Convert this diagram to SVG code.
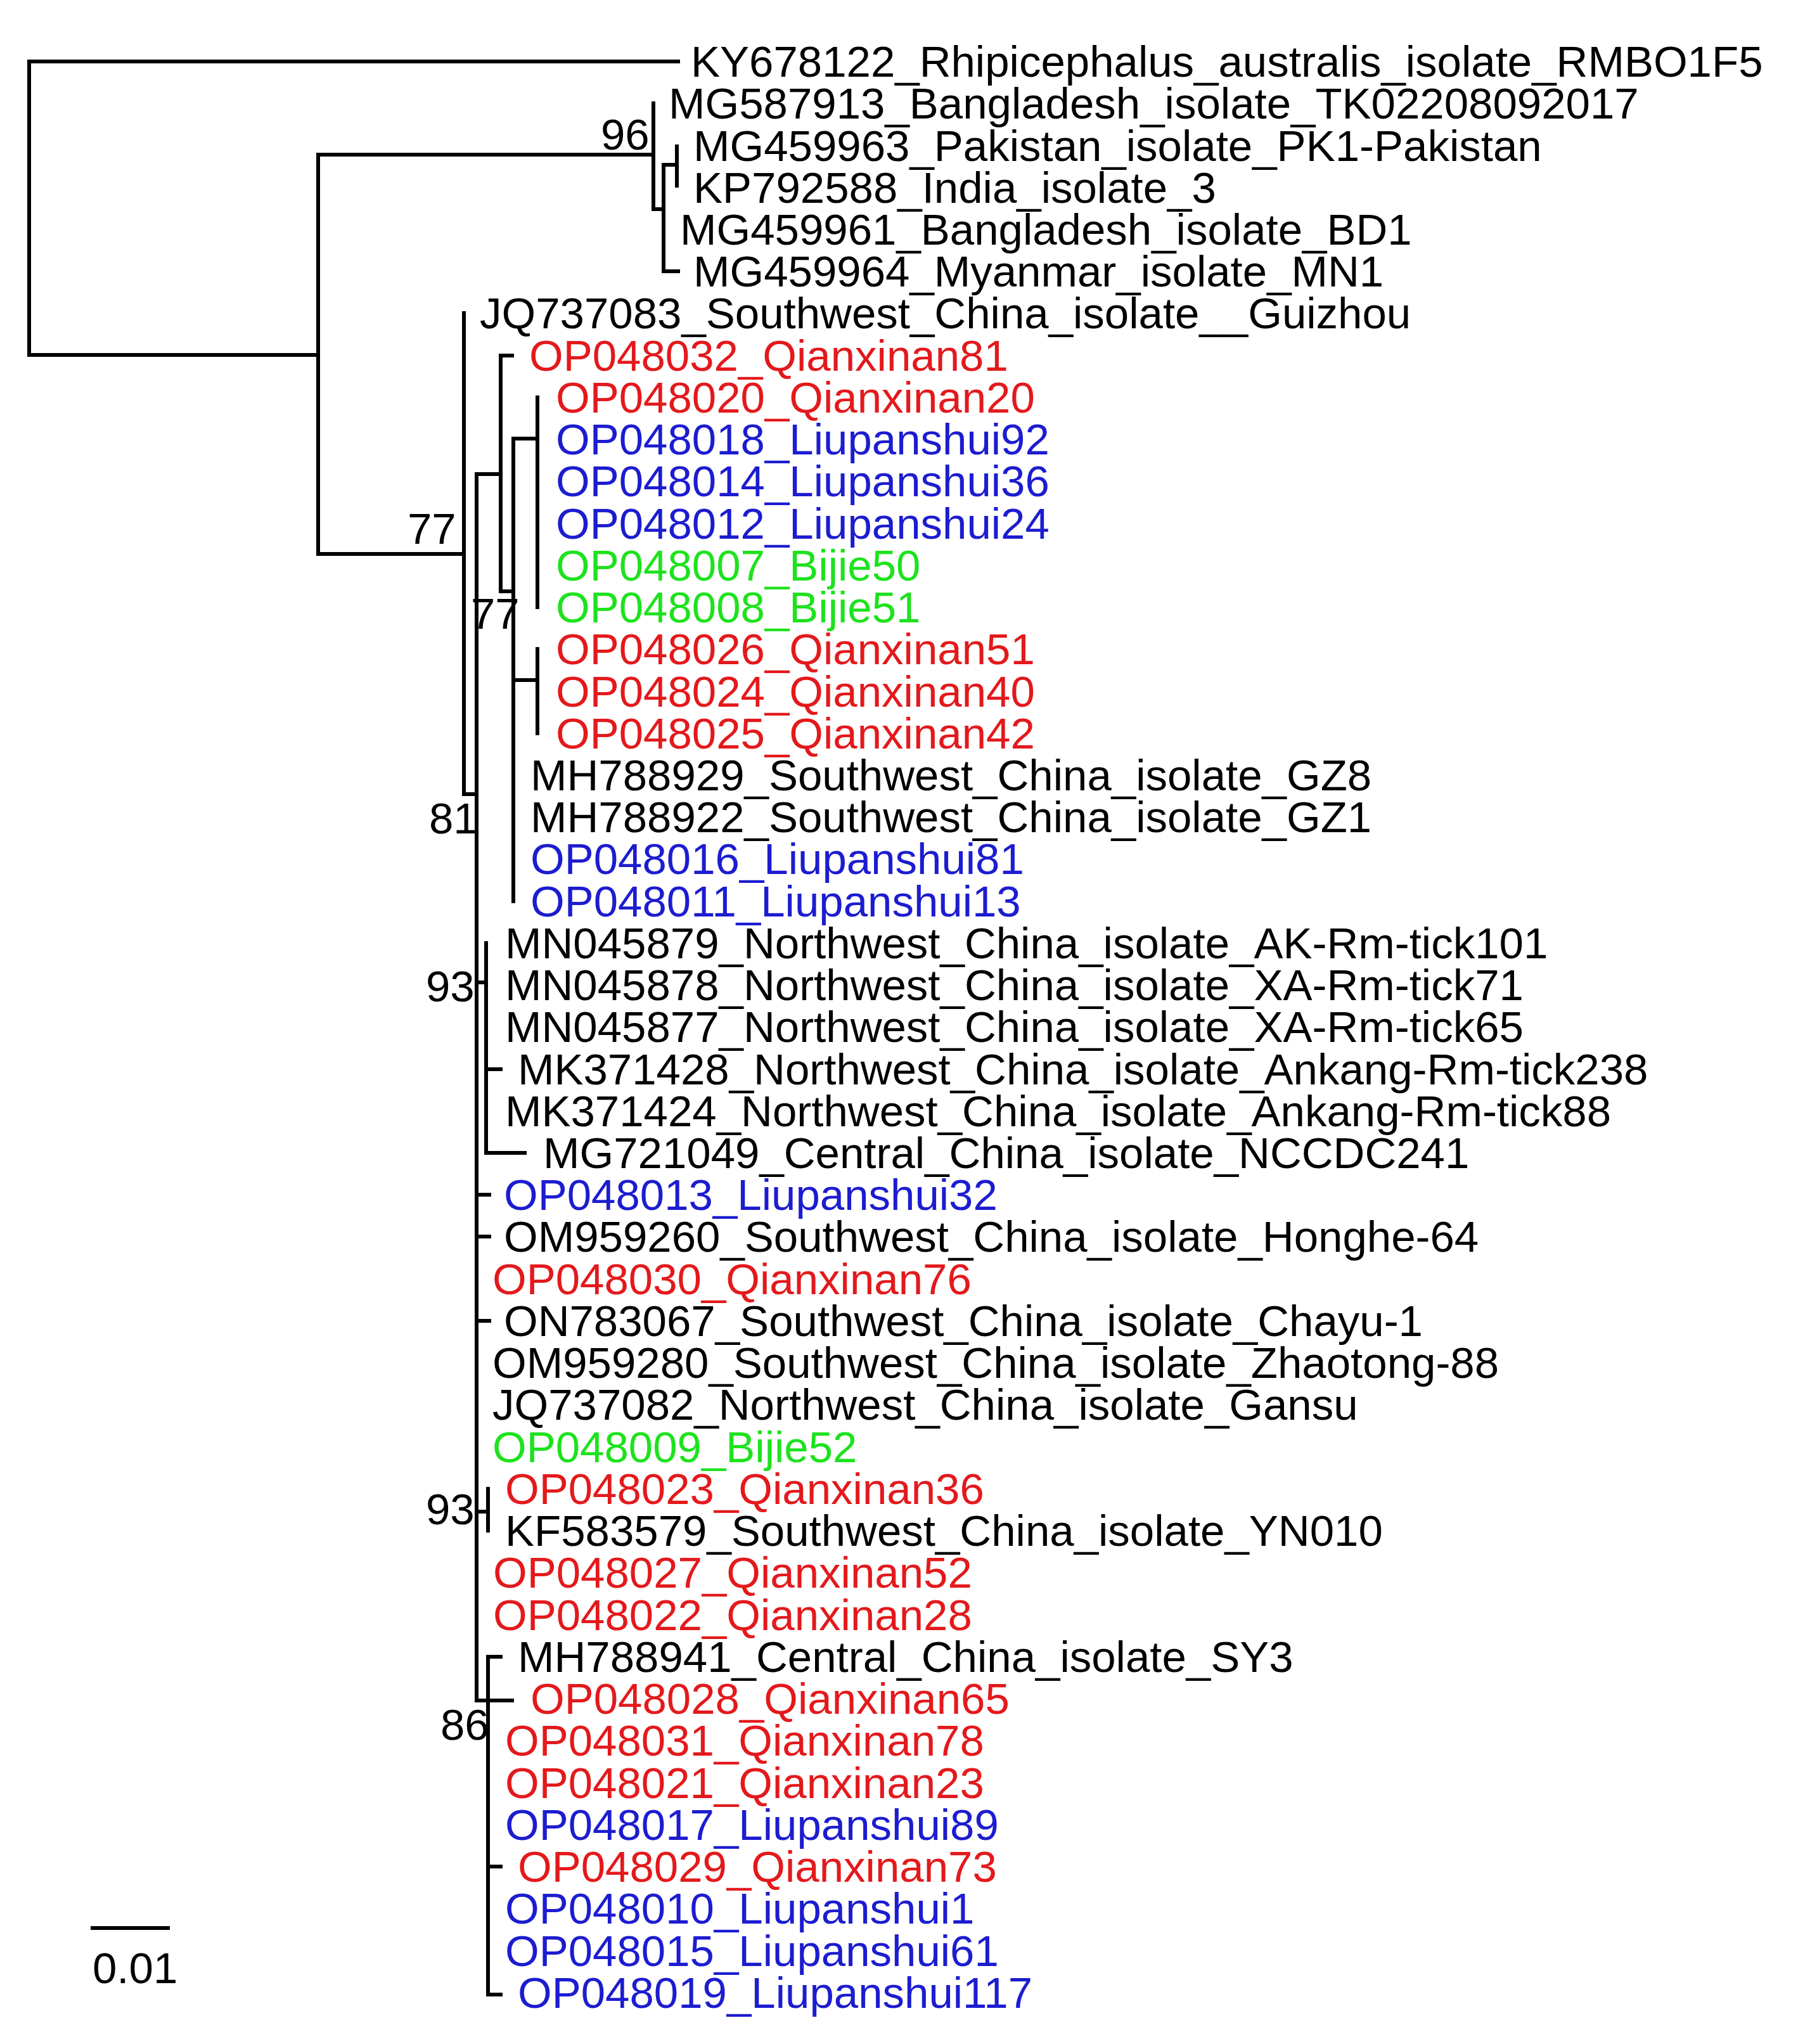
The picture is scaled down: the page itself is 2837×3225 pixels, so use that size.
<svg xmlns="http://www.w3.org/2000/svg" width="2837" height="3225" viewBox="0 0 2837 3225">
<style>
text{font-family:"Liberation Sans",Arial,sans-serif;font-size:69px;fill:#000}
.r{fill:#e3191c}.b{fill:#1c1cd0}.g{fill:#1ee21e}
.e path{fill:none;stroke:#000;stroke-width:6;stroke-linecap:square}
</style>
<rect width="2837" height="3225" fill="#fff"/>
<g id="edges" class="e">
<path d="M1070 97H46V560H502"/>
<path d="M1031 244H502V874H732"/>
<path d="M1031 163V330H1047"/>
<path d="M1068 260H1047V428H1070"/>
<path d="M1068 231V293"/>
<path d="M732 494V1253H752"/>
<path d="M790 748H752V2683H808"/>
<path d="M752 1550H767M752 1885H772M752 1951H772M752 2084H772M752 2385H770"/>
<path d="M808 561H790V933H810"/>
<path d="M848 692H810V1422M810 1073H848"/>
<path d="M848 627V958M848 1024V1157"/>
<path d="M767 1488V1819H828M767 1687H790"/>
<path d="M770 2349V2415"/>
<path d="M790 2614H770V3147H790M770 2945H790"/>
<path d="M146 3042H265"/>
</g>
<g id="support">
<text x="948" y="236">96</text>
<text x="643" y="858">77</text>
<text x="743" y="992">77</text>
<text x="677" y="1315">81</text>
<text x="672" y="1580">93</text>
<text x="672" y="2405">93</text>
<text x="695" y="2745">86</text>
<text x="146" y="3129">0.01</text>
</g>
<g id="leaves">
<text x="1090" y="121">KY678122_Rhipicephalus_australis_isolate_RMBO1F5</text>
<text x="1055" y="187">MG587913_Bangladesh_isolate_TK02208092017</text>
<text x="1094" y="254">MG459963_Pakistan_isolate_PK1-Pakistan</text>
<text x="1094" y="320">KP792588_India_isolate_3</text>
<text x="1073" y="386">MG459961_Bangladesh_isolate_BD1</text>
<text x="1094" y="452">MG459964_Myanmar_isolate_MN1</text>
<text x="757" y="518">JQ737083_Southwest_China_isolate__Guizhou</text>
<text class="r" x="835" y="585">OP048032_Qianxinan81</text>
<text class="r" x="877" y="651">OP048020_Qianxinan20</text>
<text class="b" x="877" y="717">OP048018_Liupanshui92</text>
<text class="b" x="877" y="783">OP048014_Liupanshui36</text>
<text class="b" x="877" y="850">OP048012_Liupanshui24</text>
<text class="g" x="877" y="916">OP048007_Bijie50</text>
<text class="g" x="877" y="982">OP048008_Bijie51</text>
<text class="r" x="877" y="1048">OP048026_Qianxinan51</text>
<text class="r" x="877" y="1115">OP048024_Qianxinan40</text>
<text class="r" x="877" y="1181">OP048025_Qianxinan42</text>
<text x="837" y="1247">MH788929_Southwest_China_isolate_GZ8</text>
<text x="837" y="1313">MH788922_Southwest_China_isolate_GZ1</text>
<text class="b" x="837" y="1379">OP048016_Liupanshui81</text>
<text class="b" x="837" y="1446">OP048011_Liupanshui13</text>
<text x="797" y="1512">MN045879_Northwest_China_isolate_AK-Rm-tick101</text>
<text x="797" y="1578">MN045878_Northwest_China_isolate_XA-Rm-tick71</text>
<text x="797" y="1644">MN045877_Northwest_China_isolate_XA-Rm-tick65</text>
<text x="817" y="1711">MK371428_Northwest_China_isolate_Ankang-Rm-tick238</text>
<text x="797" y="1777">MK371424_Northwest_China_isolate_Ankang-Rm-tick88</text>
<text x="857" y="1843">MG721049_Central_China_isolate_NCCDC241</text>
<text class="b" x="795" y="1909">OP048013_Liupanshui32</text>
<text x="795" y="1975">OM959260_Southwest_China_isolate_Honghe-64</text>
<text class="r" x="777" y="2042">OP048030_Qianxinan76</text>
<text x="795" y="2108">ON783067_Southwest_China_isolate_Chayu-1</text>
<text x="777" y="2174">OM959280_Southwest_China_isolate_Zhaotong-88</text>
<text x="777" y="2240">JQ737082_Northwest_China_isolate_Gansu</text>
<text class="g" x="777" y="2307">OP048009_Bijie52</text>
<text class="r" x="797" y="2373">OP048023_Qianxinan36</text>
<text x="797" y="2439">KF583579_Southwest_China_isolate_YN010</text>
<text class="r" x="778" y="2505">OP048027_Qianxinan52</text>
<text class="r" x="778" y="2572">OP048022_Qianxinan28</text>
<text x="817" y="2638">MH788941_Central_China_isolate_SY3</text>
<text class="r" x="837" y="2704">OP048028_Qianxinan65</text>
<text class="r" x="797" y="2770">OP048031_Qianxinan78</text>
<text class="r" x="797" y="2837">OP048021_Qianxinan23</text>
<text class="b" x="797" y="2903">OP048017_Liupanshui89</text>
<text class="r" x="817" y="2969">OP048029_Qianxinan73</text>
<text class="b" x="797" y="3035">OP048010_Liupanshui1</text>
<text class="b" x="797" y="3102">OP048015_Liupanshui61</text>
<text class="b" x="817" y="3168">OP048019_Liupanshui117</text>
</g>
</svg>
